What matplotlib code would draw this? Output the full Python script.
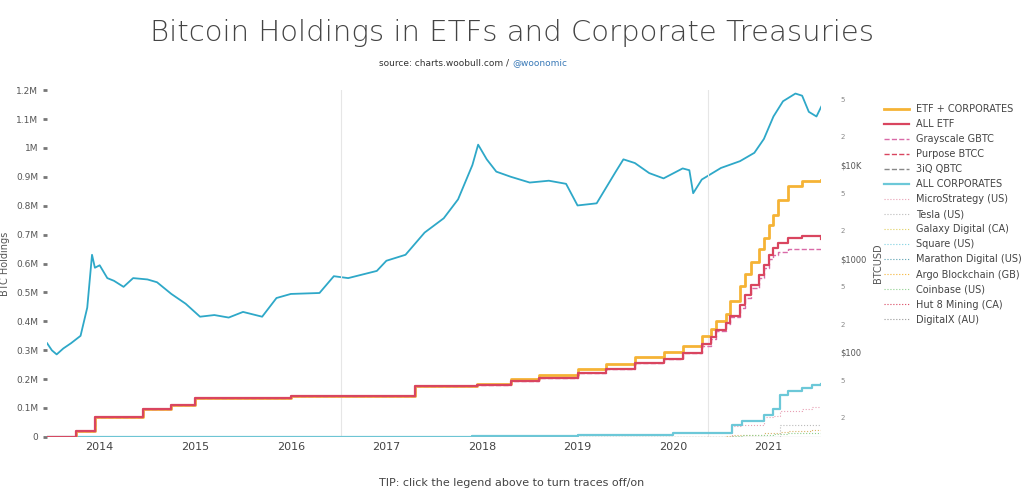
import matplotlib.pyplot as plt
from matplotlib.lines import Line2D
import numpy as np

# BTC price (year, USD)
price_t = [2013.45, 2013.5, 2013.55, 2013.62, 2013.7, 2013.8, 2013.87, 2013.92, 2013.95, 2014.0, 2014.08,
           2014.15, 2014.25, 2014.35, 2014.5, 2014.6, 2014.75, 2014.9, 2015.05, 2015.2, 2015.35, 2015.5,
           2015.7, 2015.85, 2016.0, 2016.3, 2016.45, 2016.6, 2016.9, 2017.0, 2017.2, 2017.4, 2017.6,
           2017.75, 2017.9, 2017.96, 2018.05, 2018.15, 2018.3, 2018.5, 2018.7, 2018.88, 2019.0, 2019.2,
           2019.4, 2019.48, 2019.6, 2019.75, 2019.9, 2020.1, 2020.17, 2020.21, 2020.3, 2020.5, 2020.7,
           2020.85, 2020.95, 2021.05, 2021.15, 2021.28, 2021.35, 2021.42, 2021.5, 2021.55]
price_v = [125, 105, 95, 110, 125, 150, 300, 1100, 800, 850, 620, 580, 500, 620, 600, 560, 420, 330,
           240, 250, 235, 270, 240, 380, 420, 430, 650, 620, 740, 950, 1100, 1900, 2700, 4300, 10000,
           16500, 11500, 8500, 7500, 6500, 6800, 6300, 3700, 3900, 8500, 11500, 10500, 8200, 7200, 9200,
           8800, 5000, 7000, 9300, 11000, 13500, 19000, 33000, 48000, 58000, 55000, 37000, 33000, 42000]

# ETF and corporate holdings (year, BTC)
etf_t = [2013.45, 2013.75, 2013.95, 2014.45, 2014.75, 2015.0, 2016.0, 2017.3, 2017.95, 2018.3, 2018.6,
         2019.0, 2019.3, 2019.6, 2019.9, 2020.1, 2020.3, 2020.4, 2020.45, 2020.55, 2020.6, 2020.7, 2020.75,
         2020.82, 2020.9, 2020.95, 2021.0, 2021.05, 2021.1, 2021.2, 2021.35, 2021.55]
all_etf = [0, 20e3, 70e3, 95e3, 110e3, 135e3, 140e3, 175e3, 180e3, 195e3, 205e3, 220e3, 235e3, 255e3,
           270e3, 290e3, 320e3, 345e3, 370e3, 395e3, 420e3, 455e3, 490e3, 525e3, 560e3, 595e3, 630e3,
           655e3, 670e3, 690e3, 695e3, 685e3]
gbtc = [0, 20e3, 70e3, 95e3, 110e3, 135e3, 140e3, 175e3, 180e3, 195e3, 205e3, 220e3, 235e3, 255e3,
        270e3, 290e3, 315e3, 340e3, 365e3, 390e3, 415e3, 445e3, 480e3, 515e3, 550e3, 585e3, 615e3,
        630e3, 640e3, 650e3, 650e3, 645e3]
corp_t = [2013.45, 2017.9, 2019.0, 2020.0, 2020.55, 2020.62, 2020.72, 2020.95, 2021.05, 2021.12,
          2021.2, 2021.35, 2021.45, 2021.55]
all_corp = [0, 2e3, 8e3, 12e3, 15e3, 40e3, 55e3, 75e3, 95e3, 145e3, 160e3, 170e3, 178e3, 182e3]
mstr = [0, 0, 0, 0, 0, 38e3, 40e3, 70e3, 72e3, 91e3, 91e3, 95e3, 105e3, 105e3]
tesla = [0, 0, 0, 0, 0, 0, 0, 0, 0, 42e3, 42e3, 42e3, 42e3, 42e3]
small = [0, 0, 0, 0, 2e3, 5e3, 8e3, 12e3, 15e3, 18e3, 20e3, 22e3, 25e3, 25e3]
etf_corp = [e + c for e, c in zip(all_etf, np.interp(etf_t, corp_t, all_corp))]
etf_corp = [e if t < 2017.9 else e + (t - 2017.9) * 6e3 for e, t in zip(etf_corp, etf_t)]

year_ticks = list(range(2014, 2022))
halvings = [2016.52, 2020.37]
legend_names = ['ETF + CORPORATES', 'ALL ETF', 'Grayscale GBTC', 'Purpose BTCC', '3iQ QBTC',
                'ALL CORPORATES', 'MicroStrategy (US)', 'Tesla (US)', 'Galaxy Digital (CA)',
                'Square (US)', 'Marathon Digital (US)', 'Argo Blockchain (GB)', 'Coinbase (US)',
                'Hut 8 Mining (CA)', 'DigitalX (AU)']

fig = plt.figure(figsize=(10.24, 5.01), dpi=100)
ax = fig.add_axes([0.046, 0.128, 0.756, 0.692])
ax2 = ax.twinx()
ax.set_zorder(2); ax.patch.set_visible(False)

ax2.plot(price_t, price_v, color='#2ea8c8', lw=1.3)
ax2.set_yscale('log')
ax2.set_ylim(12.5, 63000)
ax2.set_yticks([100, 1000, 10000])
ax2.set_yticklabels(['$100', '$1000', '$10K'])
ax2.set_yticks([20, 50, 200, 500, 2000, 5000, 20000, 50000], minor=True)
ax2.set_yticklabels(['2', '5'] * 4, minor=True)
ax2.tick_params(axis='y', which='major', length=0, labelsize=6, labelcolor='#555', pad=14)
ax2.tick_params(axis='y', which='minor', length=0, labelsize=5, labelcolor='#888', pad=14)
ax2.set_ylabel('BTCUSD', fontsize=7, color='#555', labelpad=4)

def st(t, v, **kw):
    ax.step(t, v, where='post', **kw)

st(corp_t, small, color='#d9b36a', lw=0.8, ls=':')
st(corp_t, [s * 0.6 for s in small], color='#8fd08f', lw=0.8, ls=':')
st(corp_t, tesla, color='#bbb', lw=0.8, ls=':')
st(corp_t, mstr, color='#e8a0b4', lw=0.8, ls=':')
st(corp_t, all_corp, color='#6cc8d8', lw=1.6)
st(etf_t, etf_corp, color='#f5b335', lw=2)
st(etf_t, gbtc, color='#d96aa8', lw=1, ls='--')
st(etf_t, all_etf, color='#d9455f', lw=1.6)
for h in halvings:
    ax.axvline(h, color='#e6e6e6', lw=0.8, zorder=0)
ax.axhline(0, color='#999', lw=0.8)

ax.set_xlim(2013.45, 2021.55)
ax.set_ylim(0, 1.2e6)
ax.set_yticks(np.arange(0, 1.21e6, 1e5))
ax.set_yticklabels(['0'] + [f'{v/10:g}M' for v in range(1, 13)])
ax.set_xticks(year_ticks)
ax.set_xticklabels([str(y) for y in year_ticks])
ax.tick_params(axis='y', length=3, labelsize=6.5, labelcolor='#555', color='#777', width=2)
ax.tick_params(axis='x', length=0, labelsize=8, labelcolor='#444')
ax.set_ylabel('BTC Holdings', fontsize=7, color='#555')
for a in (ax, ax2):
    for s in a.spines.values():
        s.set_visible(False)

# legend
styles = [('#f5b335', '-', 2), ('#d9455f', '-', 1.6), ('#d96aa8', '--', 1), ('#d9455f', '--', 1),
          ('#888', '--', 1), ('#6cc8d8', '-', 1.6), ('#e8a0b4', ':', 0.8), ('#bbb', ':', 0.8),
          ('#e0d060', ':', 0.8), ('#7cd0e0', ':', 0.8), ('#5aa0b0', ':', 0.8), ('#f5b335', ':', 0.8),
          ('#8fd08f', ':', 0.8), ('#d9455f', ':', 0.8), ('#999', ':', 0.8)]
handles = [Line2D([], [], color=c, ls=l, lw=w) for c, l, w in styles]
fig.legend(handles, legend_names, loc='upper left', bbox_to_anchor=(0.855, 0.81), frameon=False,
           fontsize=7, labelcolor='#444', handlelength=2.5, labelspacing=0.52)

fig.text(0.5, 0.935, 'Bitcoin Holdings in ETFs and Corporate Treasuries', ha='center', va='center',
         fontsize=21, color='#444', fontweight='light')
fig.text(0.5, 0.875, 'source: charts.woobull.com / ', ha='right', va='center', fontsize=6.5, color='#333')
fig.text(0.5, 0.875, '@woonomic', ha='left', va='center', fontsize=6.5, color='#3a7ab8')
fig.text(0.5, 0.035, 'TIP: click the legend above to turn traces off/on', ha='center', va='center',
         fontsize=8, color='#444')
fig.savefig('out.png', dpi=100)
